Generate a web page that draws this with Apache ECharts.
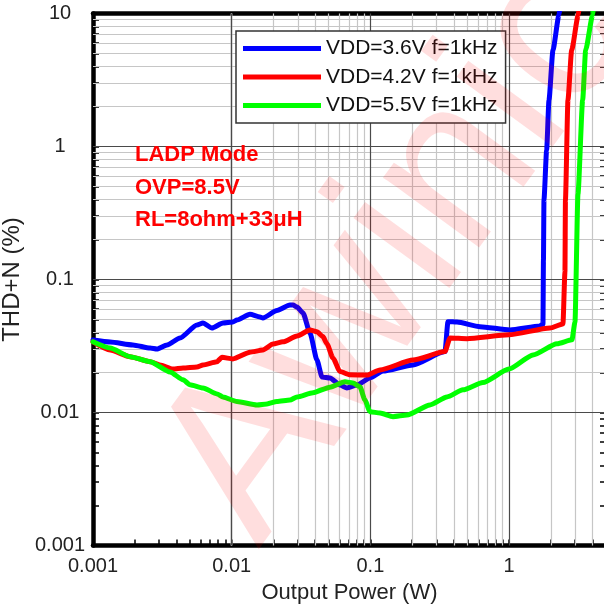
<!DOCTYPE html>
<html>
<head>
<meta charset="utf-8">
<script src="https://cdn.jsdelivr.net/npm/echarts@6/dist/echarts.min.js"></script>
<style>
  html, body { margin: 0; padding: 0; background: #fff; }
  #chart { width: 604px; height: 609px; }
</style>
</head>
<body>
<div id="chart"></div>
<script>
// ---- data (Output Power in W, THD+N in %) ----
const seriesNames = ['VDD=3.6V f=1kHz', 'VDD=4.2V f=1kHz', 'VDD=5.5V f=1kHz'];
const seriesColors = ['#0000ff', '#ff0000', '#00ff00'];

const vdd36 = [
  [0.001, 0.0351], [0.00133, 0.0339], [0.00194, 0.0322], [0.00258, 0.0305], [0.00289, 0.0300],
  [0.00342, 0.0322], [0.00424, 0.0363], [0.00562, 0.0455], [0.00621, 0.0471], [0.00721, 0.0432],
  [0.00865, 0.0471], [0.0102, 0.0479], [0.0109, 0.0496], [0.01355, 0.0548], [0.0160, 0.0523],
  [0.0168, 0.0514], [0.0212, 0.0585], [0.0263, 0.0643], [0.0277, 0.0643], [0.0296, 0.0621],
  [0.0327, 0.0560], [0.0367, 0.0396], [0.0412, 0.0248], [0.0448, 0.0185], [0.0511, 0.0182],
  [0.0604, 0.0161], [0.0678, 0.0153], [0.0801, 0.0161], [0.0993, 0.0182], [0.1233, 0.0205],
  [0.2028, 0.0228], [0.3451, 0.0287], [0.3627, 0.0482], [0.4211, 0.0479], [0.6168, 0.0442],
  [1.015, 0.0417], [1.671, 0.0447], [1.756, 0.0463], [1.77, 0.140], [1.785, 0.396],
  [1.866, 0.941], [1.940, 2.236], [2.073, 5.316], [2.29, 9.74], [2.33, 11]
];

const vdd42 = [
  [0.001, 0.0340], [0.00133, 0.0295], [0.00185, 0.0263], [0.00258, 0.0241], [0.00304, 0.0228],
  [0.00377, 0.0212], [0.00446, 0.0216], [0.00562, 0.0220], [0.00621, 0.0228], [0.00783, 0.0241],
  [0.00851, 0.0260], [0.0102, 0.0253], [0.01355, 0.0284], [0.0168, 0.0295], [0.01985, 0.0327],
  [0.02344, 0.0340], [0.0296, 0.0376], [0.03669, 0.0417], [0.0412, 0.0404], [0.0455, 0.0372],
  [0.0486, 0.0329], [0.0537, 0.0257], [0.0604, 0.0203], [0.0713, 0.0192], [0.0945, 0.0191],
  [0.1173, 0.0209], [0.2028, 0.0248], [0.3451, 0.0287], [0.3749, 0.0363], [0.4971, 0.0359],
  [0.998, 0.0384], [1.972, 0.0432], [2.447, 0.0463], [2.529, 0.1138], [2.55, 0.396],
  [2.658, 2.236], [2.827, 5.316], [3.155, 9.74], [3.2, 11]
];

const vdd55 = [
  [0.001, 0.0340], [0.00133, 0.0305], [0.00185, 0.0263], [0.00258, 0.0241], [0.00359, 0.0202],
  [0.00446, 0.0176], [0.00500, 0.0162], [0.00621, 0.0153], [0.00783, 0.0138], [0.00865, 0.0131],
  [0.0109, 0.0121], [0.01522, 0.0114], [0.01797, 0.0116], [0.0212, 0.0121], [0.0263, 0.0124],
  [0.0296, 0.0131], [0.0386, 0.0141], [0.0511, 0.0155], [0.0656, 0.0170], [0.0749, 0.0167],
  [0.0841, 0.0156], [0.0914, 0.0124], [0.0993, 0.01014], [0.1173, 0.00991], [0.1455, 0.00930],
  [0.1836, 0.00958], [0.2690, 0.0114], [0.3566, 0.0131], [0.4652, 0.0148], [0.648, 0.0168],
  [0.998, 0.0212], [1.487, 0.0271], [2.215, 0.0329], [2.842, 0.0352], [2.987, 0.0479],
  [3.14, 0.4395], [3.394, 2.236], [3.567, 5.316], [4.006, 9.74], [4.06, 11]
];

const xTickLabels = ['0.001', '0.01', '0.1', '1'];
const yTickLabels = ['0.001', '0.01', '0.1', '1', '10'];
const xRange = [0.001, 5];
const yRange = [0.001, 10];

const annotationLines = ['LADP Mode', 'OVP=8.5V', 'RL=8ohm+33μH'];
const watermarkText = 'Awinic';

// minor grid values (2..9 x each decade)
function minorValues(lo, hi) {
  const out = [];
  for (let d = Math.floor(Math.log10(lo)); d <= Math.ceil(Math.log10(hi)); d++) {
    for (let k = 2; k <= 9; k++) {
      const v = k * Math.pow(10, d);
      if (v > lo && v < hi) out.push(+v.toPrecision(6));
    }
  }
  return out;
}
const xMinor = minorValues(xRange[0], xRange[1]);
const yMinor = minorValues(yRange[0], yRange[1]);
const xMajor = xTickLabels.map(Number).filter(v => v > xRange[0] && v < xRange[1]);
const yMajor = yTickLabels.map(Number).filter(v => v > yRange[0] && v < yRange[1]);
const xTickVals = xMinor.concat(xTickLabels.map(Number));
const yTickVals = yMinor.concat(yTickLabels.map(Number));

function labelFor(list) {
  return function (v) {
    for (const t of list) {
      if (Math.abs(Math.log10(v) - Math.log10(parseFloat(t))) < 1e-6) return t;
    }
    return '';
  };
}

const FONT = '"Liberation Sans", Arial, sans-serif';
const chart = echarts.init(document.getElementById('chart'), null, { renderer: 'canvas' });

const dataSeries = [vdd36, vdd42, vdd55].map((d, i) => ({
  name: seriesNames[i],
  type: 'line',
  data: d,
  showSymbol: false,
  symbol: 'none',
  smooth: 0.2,
  smoothMonotone: 'x',
  clip: true,
  z: 5,
  lineStyle: { color: seriesColors[i], width: 5, cap: 'round', join: 'round' },
  itemStyle: { color: seriesColors[i] },
  animation: false
}));

function gridLines(xs, ys, color, width, z) {
  return {
    type: 'line',
    data: [],
    silent: true,
    z: z,
    animation: false,
    markLine: {
      silent: true,
      symbol: ['none', 'none'],
      label: { show: false },
      animation: false,
      lineStyle: { color: color, width: width, type: 'solid' },
      emphasis: { disabled: true },
      data: xs.map(v => ({ xAxis: v })).concat(ys.map(v => ({ yAxis: v })))
    }
  };
}

function tickCfg(vals) {
  return { show: true, inside: true, length: 6, customValues: vals, lineStyle: { color: '#000', width: 1.5 } };
}

const option = {
  animation: false,
  backgroundColor: '#ffffff',
  textStyle: { fontFamily: FONT },
  grid: { left: 93, top: 13.5, width: 513, height: 532, containLabel: false, outerBoundsMode: 'none' },
  legend: {
    orient: 'vertical',
    left: 236,
    top: 31,
    z: 30,
    data: seriesNames,
    icon: 'rect',
    itemWidth: 78,
    itemHeight: 5,
    itemGap: 7.5,
    padding: [7, 8, 7, 7],
    backgroundColor: '#ffffff',
    borderColor: '#333333',
    borderWidth: 1.5,
    selectedMode: false,
    textStyle: { fontFamily: FONT, fontSize: 21, color: '#111', lineHeight: 21 }
  },
  xAxis: [
    {
      type: 'log', logBase: 10, min: xRange[0], max: xRange[1],
      position: 'bottom',
      name: 'Output Power (W)', nameLocation: 'middle', nameGap: 36,
      nameTextStyle: { fontFamily: FONT, fontSize: 22, color: '#222' },
      axisLine: { show: true, onZero: false, lineStyle: { color: '#000', width: 4.5 } },
      axisTick: tickCfg(xTickVals),
      axisLabel: { fontFamily: FONT, fontSize: 20, color: '#222', margin: 11, formatter: labelFor(xTickLabels), showMaxLabel: false },
      splitLine: { show: false },
      minorTick: { show: false }, minorSplitLine: { show: false }
    },
    {
      type: 'log', logBase: 10, min: xRange[0], max: xRange[1],
      position: 'top',
      axisLine: { show: true, onZero: false, lineStyle: { color: '#000', width: 4.5 } },
      axisTick: { show: false }, axisLabel: { show: false }, splitLine: { show: false }
    }
  ],
  yAxis: [
    {
      type: 'log', logBase: 10, min: yRange[0], max: yRange[1],
      position: 'left',
      name: 'THD+N (%)', nameLocation: 'middle', nameGap: 63, nameRotate: 90,
      nameTextStyle: { fontFamily: FONT, fontSize: 24, color: '#222' },
      axisLine: { show: true, onZero: false, lineStyle: { color: '#000', width: 4.5 } },
      axisTick: tickCfg(yTickVals),
      axisLabel: { fontFamily: FONT, fontSize: 20, color: '#222', margin: 33, align: 'center', formatter: labelFor(yTickLabels) },
      splitLine: { show: false }
    },
    {
      type: 'log', logBase: 10, min: yRange[0], max: yRange[1],
      position: 'right',
      axisLine: { show: true, onZero: false, lineStyle: { color: '#000', width: 4.5 } },
      axisTick: tickCfg(yTickVals), axisLabel: { show: false }, splitLine: { show: false }
    }
  ],
  series: [
    gridLines(xMinor, yMinor, '#c6c6c6', 1.2, 1),
    gridLines(xMajor, yMajor, '#4a4a4a', 1.2, 2)
  ].concat(dataSeries),
  graphic: [
    ...annotationLines.map((t, i) => ({
      type: 'text', left: 135, top: 144 + i * 32.5, z: 50,
      style: { text: t, fill: '#ff0000', font: 'bold 22px ' + FONT }
    })),
    {
      type: 'text', x: 399, y: 252, rotation: 0.94, z: 100, silent: true,
      style: { text: watermarkText, fill: 'rgba(255,0,0,0.13)', font: '225px ' + FONT, align: 'center', verticalAlign: 'middle' }
    }
  ]
};
chart.setOption(option);
</script>
</body>
</html>
